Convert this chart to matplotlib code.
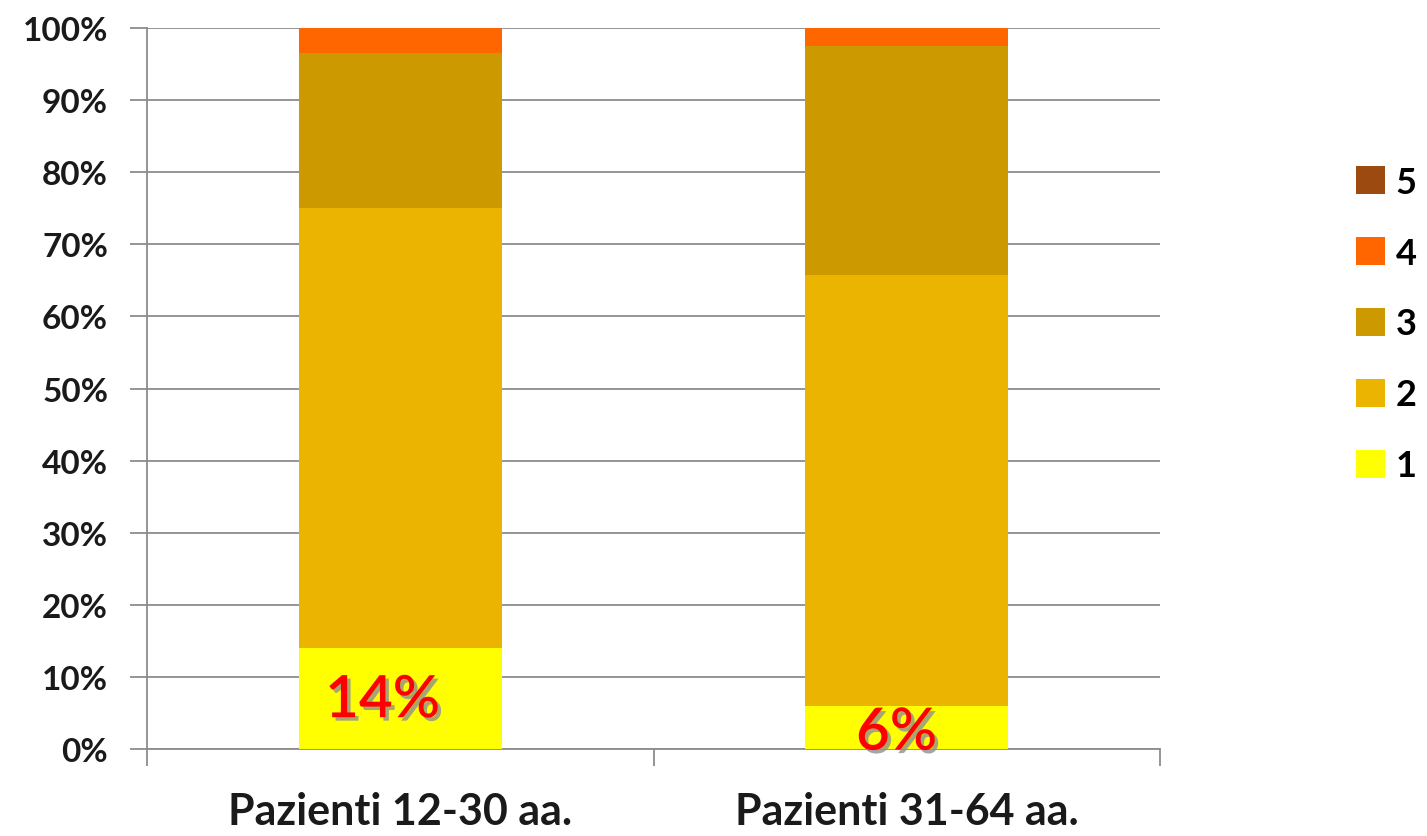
import matplotlib
matplotlib.use("Agg")
import matplotlib.pyplot as plt
import matplotlib.patheffects as pe
from matplotlib.patches import Patch
import numpy as np

# Data: share of patients per score, by age group (percent)
categories = ["Pazienti 12-30 aa.", "Pazienti 31-64 aa."]
levels = ["1", "2", "3", "4", "5"]
score_1 = [14.0, 6.0]
score_2 = [61.0, 59.7]
score_3 = [21.5, 31.8]
score_4 = [3.5, 2.5]
score_5 = [0.0, 0.0]
value_labels = ["14%", "6%"]

colors = ["#FFFF00", "#EBB400", "#CC9900", "#FF6600", "#9C4A0F"]

plt.rcParams["font.family"] = ["Lato", "DejaVu Sans"]

fig = plt.figure(figsize=(14.27, 8.37), dpi=100)
ax = fig.add_axes([147 / 1427, 1 - 750 / 837, (1160 - 147) / 1427, (750 - 29) / 837])

x = np.arange(len(categories))
series = [score_1, score_2, score_3, score_4, score_5]
bottom = np.zeros(len(categories))
for vals, col in zip(series, colors):
    ax.bar(x, vals, width=0.4, bottom=bottom, color=col, edgecolor="none", zorder=3)
    bottom += np.array(vals)

ax.set_xlim(-0.5, 1.5)
ax.set_ylim(0, 100)

# horizontal gridlines
ax.set_yticks(np.arange(0, 101, 10))
ax.set_yticklabels([f"{v}%" for v in range(0, 101, 10)], fontsize=24,
                   fontweight="bold", color="#1a1a1a")
ax.yaxis.grid(True, color="#8c8c8c", linewidth=1.3, zorder=0)
ax.tick_params(axis="y", length=12, width=1.3, color="#8c8c8c", pad=16)

# category labels centred under bars, tick marks at category boundaries
ax.set_xticks([-0.5, 0.5, 1.5])
ax.set_xticklabels([])
ax.set_xticks(x, minor=True)
ax.set_xticklabels(categories, minor=True, fontsize=31, fontweight="bold", color="#1a1a1a")
ax.tick_params(axis="x", which="major", length=12, width=1.3, color="#8c8c8c")
ax.tick_params(axis="x", which="minor", length=0, pad=30)

for side in ["top", "right"]:
    ax.spines[side].set_visible(False)
for side in ["left", "bottom"]:
    ax.spines[side].set_color("#8c8c8c")
    ax.spines[side].set_linewidth(1.3)

# red value labels on the lowest segment
label_y = [6.7, 2.2]
label_dx = [-0.035, -0.02]
for xi, txt, yy, dx in zip(x, value_labels, label_y, label_dx):
    ax.text(xi + dx, yy, txt, ha="center", va="center", fontsize=42, color="#FF0000",
            fontweight="semibold", zorder=5,
            path_effects=[pe.withSimplePatchShadow(offset=(2.5, -2.5),
                                                   shadow_rgbFace="#909090", alpha=0.8)])

handles = [Patch(facecolor=c, edgecolor="none") for c in colors][::-1]
fig.legend(handles, levels[::-1], loc="center left",
           bbox_to_anchor=(1356 / 1427, 1 - 325 / 837), frameon=False,
           prop={"size": 26, "weight": "bold"}, handlelength=0.8, handleheight=0.8,
           handletextpad=0.3, labelspacing=1.05, borderpad=0, borderaxespad=0)

fig.savefig("out.png", dpi=100, facecolor="white")
